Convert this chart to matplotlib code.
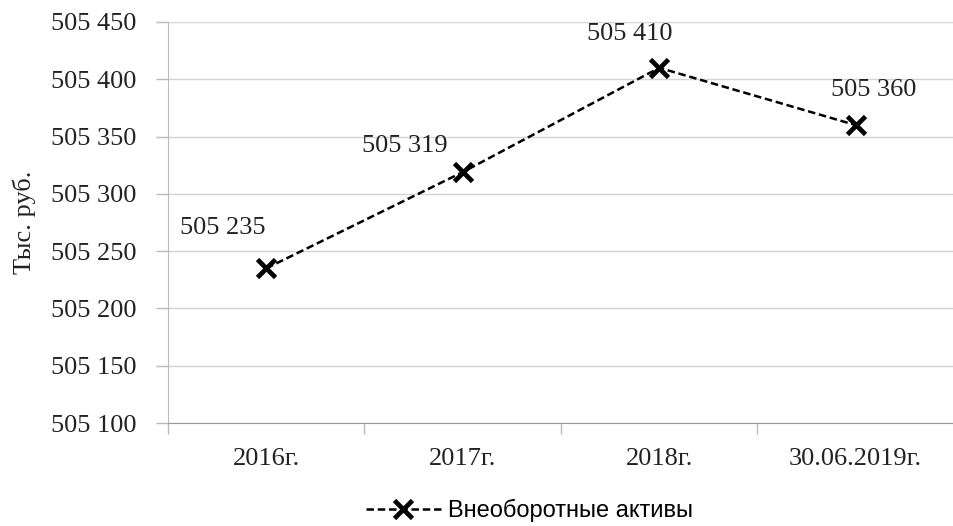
import matplotlib.pyplot as plt
import numpy as np
from matplotlib.ticker import FuncFormatter, FixedLocator

# data
categories = ['2016г.', '2017г.', '2018г.', '30.06.2019г.']
values = [505235, 505319, 505410, 505360]
series_name = 'Внеоборотные активы'
y_ticks = [505100, 505150, 505200, 505250, 505300, 505350, 505400, 505450]

plt.rcParams['font.family'] = ['Liberation Serif', 'DejaVu Serif']

fig = plt.figure(figsize=(9.54, 5.26), dpi=100, facecolor='white')
ax = fig.add_axes([168 / 954, 1 - 423 / 526, 786 / 954, 401 / 526])

x = np.arange(len(categories))
ax.plot(x, values, color='black', linestyle='--', linewidth=1.8,
        marker='x', markersize=13, markeredgewidth=3.4, label=series_name,
        dashes=(3, 1.5))

def fmt(v):
    return f"{int(v):,}".replace(',', ' ')

# data label offsets (pixels, label centre relative to the point)
offsets = [(-43, 40), (-58, 26), (-29, 34), (18, 35)]
for xi, v, (dx, dy) in zip(x, values, offsets):
    ax.annotate(fmt(v), (xi, v), xytext=(dx, dy), textcoords='offset pixels',
                ha='center', va='center', fontsize=19, color='#222222')

ax.set_xlim(-0.5, 3.5)
ax.set_ylim(505100, 505450)
ax.set_yticks(y_ticks)
ax.yaxis.set_major_formatter(FuncFormatter(lambda v, p: fmt(v)))
ax.set_xticks(x)
ax.set_xticklabels(categories)
ax.xaxis.set_minor_locator(FixedLocator([-0.5, 0.5, 1.5, 2.5, 3.5]))

ax.tick_params(axis='y', length=9, width=1, color='#bbbbbb', labelsize=19,
               labelcolor='#222222', pad=14)
ax.tick_params(axis='x', which='major', length=0, labelsize=19,
               labelcolor='#222222', pad=18)
ax.tick_params(axis='x', which='minor', length=8, width=1, color='#bbbbbb')

ax.grid(axis='y', color='#d4d4d4', linewidth=1)
ax.set_axisbelow(True)
for s in ['top', 'right']:
    ax.spines[s].set_visible(False)
ax.spines['left'].set_color('#bbbbbb')
ax.spines['bottom'].set_color('#999999')

ax.set_ylabel('Тыс. руб.', fontsize=19, color='#222222')
ax.yaxis.set_label_coords(-0.168, 0.5)

leg = fig.legend(loc='center', bbox_to_anchor=(0.555, 0.03), frameon=False,
                 prop={'family': ['Liberation Sans'], 'size': 17},
                 handlelength=3.2, handletextpad=0.3)

fig.savefig('out.png', dpi=100, facecolor='white')
